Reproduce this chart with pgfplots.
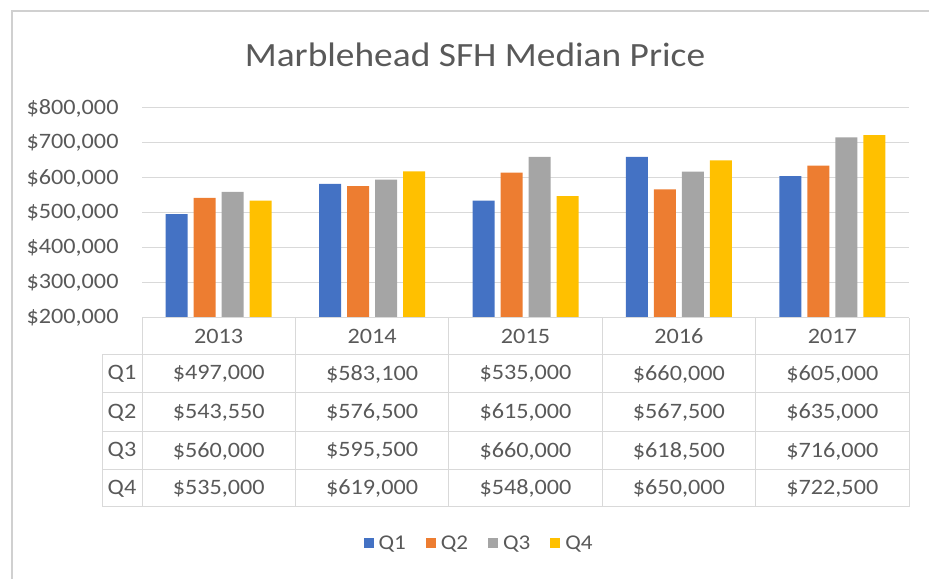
\documentclass[border=0pt]{standalone}
\usepackage{pgfplots}
\pgfplotsset{compat=1.18}
\usepackage{fontspec}
\setmainfont{Carlito}[FakeStretch=1.1]
\definecolor{cq1}{HTML}{4472C4}
\definecolor{cq2}{HTML}{ED7D31}
\definecolor{cq3}{HTML}{A5A5A5}
\definecolor{cq4}{HTML}{FFC000}
\definecolor{txt}{HTML}{595959}
\definecolor{gridc}{HTML}{D9D9D9}
\definecolor{frame}{HTML}{D0D0D0}
\newcommand{\tfont}{\fontsize{22bp}{26bp}\selectfont}
\begin{document}
\begin{tikzpicture}[x=1bp,y=1bp]
\path[use as bounding box] (0,0) rectangle (929,579);
\draw[frame, line width=1.5bp] (12,0) -- (12,568) -- (929,568);
\node[anchor=base, text=txt, font=\fontsize{34bp}{40bp}\selectfont] at (475,512) {Marblehead SFH Median Price};
\begin{axis}[
  at={(142bp,261bp)}, anchor=south west,
  width=767bp, height=210bp, scale only axis,
  ybar=6bp, bar width=22bp,
  xmin=-0.5, xmax=4.5, ymin=200000, ymax=800000,
  xtick=\empty,
  scaled y ticks=false,
  ytick={200000,300000,400000,500000,600000,700000,800000},
  yticklabels={{\$200,000},{\$300,000},{\$400,000},{\$500,000},{\$600,000},{\$700,000},{\$800,000}},
  /pgf/number format/assume math mode=true,
  yticklabel style={font=\tfont, text=txt, xshift=-20bp},
  major tick length=0pt,
  ymajorgrids, grid style={gridc, line width=1bp},
  axis line style={draw=none},
  legend columns=4,
  legend style={at={(0.4394,-1.0714)}, anchor=center, draw=none, fill=none,
    font=\fontsize{21bp}{25bp}\selectfont, text=txt,
    /tikz/every odd column/.append style={column sep=3bp},
    /tikz/every even column/.append style={column sep=18bp}},
  legend image code/.code={\fill[#1] (0bp,-5bp) rectangle (10bp,5bp);},
  every axis plot/.append style={draw=none},
]
\addplot[fill=cq1] coordinates {(0,497000) (1,583100) (2,535000) (3,660000) (4,605000)};
\addplot[fill=cq2] coordinates {(0,543550) (1,576500) (2,615000) (3,567500) (4,635000)};
\addplot[fill=cq3] coordinates {(0,560000) (1,595500) (2,660000) (3,618500) (4,716000)};
\addplot[fill=cq4] coordinates {(0,535000) (1,619000) (2,548000) (3,650000) (4,722500)};
\legend{Q1,Q2,Q3,Q4}
\end{axis}
% data table grid
\begin{scope}[gridc, line width=1bp]
\draw (142,261) -- (909,261);
\foreach \yy in {224,186,147,109,72} \draw (102,\yy) -- (909,\yy);
\draw (102,224) -- (102,72);
\foreach \xx in {142,295.4,448.8,602.2,755.6,909} \draw (\xx,261) -- (\xx,72);
\end{scope}
\begin{scope}[every node/.style={text=txt, font=\tfont, anchor=center, inner sep=0pt}]
\foreach \v [count=\i from 0] in {2013,2014,2015,2016,2017}
  \node at (218.7+153.4*\i,242.5) {\v};
\foreach \q/\yy in {Q1/205,Q2/166.5,Q3/128,Q4/90.5}
  \node at (122,\yy) {\q};
\foreach \v [count=\i from 0] in {{\$497,000},{\$583,100},{\$535,000},{\$660,000},{\$605,000}}
  \node at (218.7+153.4*\i,205) {\v};
\foreach \v [count=\i from 0] in {{\$543,550},{\$576,500},{\$615,000},{\$567,500},{\$635,000}}
  \node at (218.7+153.4*\i,166.5) {\v};
\foreach \v [count=\i from 0] in {{\$560,000},{\$595,500},{\$660,000},{\$618,500},{\$716,000}}
  \node at (218.7+153.4*\i,128) {\v};
\foreach \v [count=\i from 0] in {{\$535,000},{\$619,000},{\$548,000},{\$650,000},{\$722,500}}
  \node at (218.7+153.4*\i,90.5) {\v};
\end{scope}
\end{tikzpicture}
\end{document}
